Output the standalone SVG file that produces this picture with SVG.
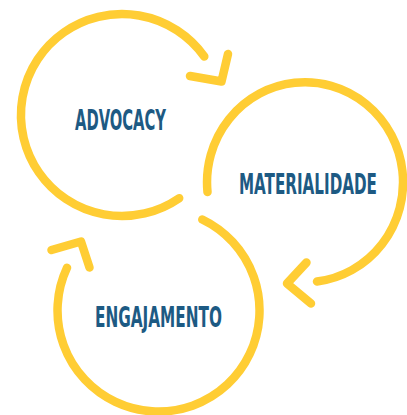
<svg xmlns="http://www.w3.org/2000/svg" width="407" height="415" viewBox="0 0 407 415">
  <style>
    .ring { fill: none; stroke: #FFCD34; stroke-width: 8.5; stroke-linecap: round; stroke-linejoin: round; }
    .label { font-family: "Liberation Sans Narrow", "DejaVu Sans Condensed", "Liberation Sans", sans-serif; font-weight: bold; font-size: 28px; fill: #1D5A83; }
  </style>
  <rect width="407" height="415" fill="#ffffff"/>
  <g id="connectors">
    <!-- cycle arcs, each ending in a detached chevron -->
    <path class="ring" d="M179.2 198.2 A101 101 0 1 1 204.3 56.5"/>
    <polyline class="ring" points="190,76 221.5,81.5 228,54"/>
    <path class="ring" d="M207.5 192 A98 100 0 1 1 317 281.5"/>
    <polyline class="ring" points="306.5,262.5 287,283.5 311,303.5"/>
    <path class="ring" d="M202.3 219.5 A101 101 0 1 1 67 267.8"/>
    <polyline class="ring" points="51.5,250 81,241.5 89.5,267.5"/>
  </g>
  <g id="advocacy">
    <text class="label" x="75" y="130" textLength="91" lengthAdjust="spacingAndGlyphs">ADVOCACY</text>
  </g>
  <g id="materialidade">
    <text class="label" x="239" y="194" textLength="138" lengthAdjust="spacingAndGlyphs">MATERIALIDADE</text>
  </g>
  <g id="engajamento">
    <text class="label" x="95" y="327" textLength="127" lengthAdjust="spacingAndGlyphs">ENGAJAMENTO</text>
  </g>
</svg>
